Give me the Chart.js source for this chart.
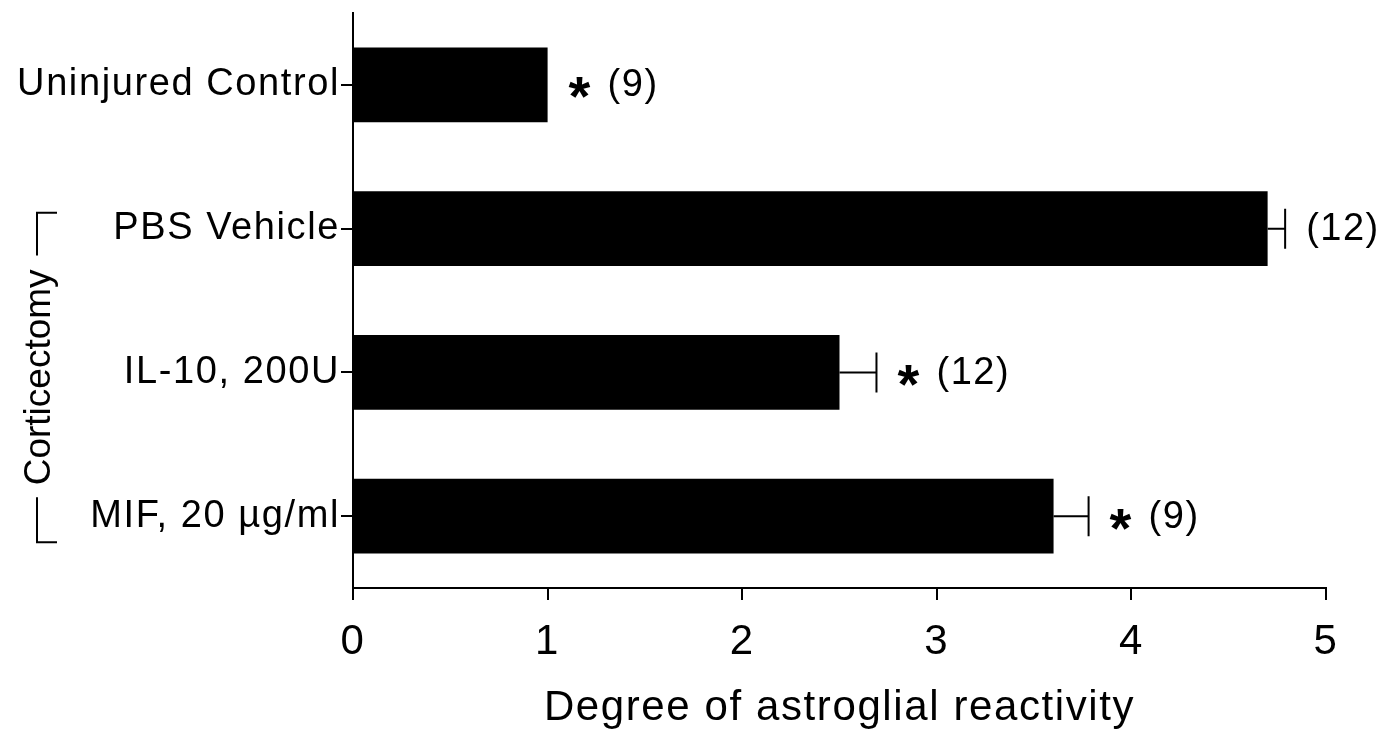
<!DOCTYPE html>
<html>
<head>
<meta charset="utf-8">
<script src="https://cdn.jsdelivr.net/npm/chart.js@4.4.1/dist/chart.umd.min.js"></script>
<style>
  html, body { margin: 0; padding: 0; background: #fff; }
  #chart { display: block; }
</style>
</head>
<body>
<canvas id="chart" width="1396" height="729"></canvas>
<script>
// data
const groups = ['Uninjured Control', 'PBS Vehicle', 'IL-10, 200U', 'MIF, 20 µg/ml'];
const reactivity = [1.0, 4.7, 2.5, 3.6];
const sem = [0, 0.09, 0.19, 0.18];
const significant = [true, false, true, true];
const nAnimals = ['(9)', '(12)', '(12)', '(9)'];
const xTicks = [0, 1, 2, 3, 4, 5];
const bracketLabel = 'Corticectomy';
const bracketFrom = 1;
const bracketTo = 3;

const FONT = '"Liberation Sans", Arial, Helvetica, sans-serif';
const SPACING = '1.6px';

// error bars plus the "* (n)" notes
const errorBars = {
    id: 'errorBars',
    afterDatasetsDraw(chart) {
        const ctx = chart.ctx;
        const x = chart.scales.x;
        const meta = chart.getDatasetMeta(0);
        ctx.save();
        ctx.strokeStyle = '#000';
        ctx.fillStyle = '#000';
        ctx.lineWidth = 2;
        meta.data.forEach((bar, i) => {
            const y = bar.y;
            const x0 = x.getPixelForValue(reactivity[i]);
            const x1 = x.getPixelForValue(reactivity[i] + sem[i]);
            if (sem[i] > 0) {
                ctx.beginPath();
                ctx.moveTo(x0, y);
                ctx.lineTo(x1, y);
                ctx.moveTo(x1, y - 20);
                ctx.lineTo(x1, y + 20);
                ctx.stroke();
            }
            let tx = x1 + 21;
            ctx.textAlign = 'left';
            ctx.textBaseline = 'middle';
            if (significant[i]) {
                ctx.font = 'bold 56px ' + FONT;
                ctx.fillText('*', tx, y + 15);
                tx += 39;
            }
            ctx.font = '38px ' + FONT;
            ctx.letterSpacing = '1.5px';
            ctx.fillText(nAnimals[i], tx, y + 1);
            ctx.letterSpacing = '0px';
        });
        ctx.restore();
    }
};

// the printed lettering is a bit wider than Liberation Sans, so open it up slightly
const labelSpacing = {
    id: 'labelSpacing',
    beforeDraw(chart) { chart.ctx.letterSpacing = SPACING; },
    afterDraw(chart) { chart.ctx.letterSpacing = '0px'; }
};

// rotated "Corticectomy" bracket on the far left
const sideBracket = {
    id: 'sideBracket',
    afterDraw(chart) {
        const ctx = chart.ctx;
        const y = chart.scales.y;
        const top = y.getPixelForValue(bracketFrom) - 16;
        const bottom = y.getPixelForValue(bracketTo) + 26;
        const mid = (top + bottom) / 2;
        const bx = 37;
        ctx.save();
        ctx.font = '37px ' + FONT;
        const half = ctx.measureText(bracketLabel).width / 2;
        ctx.strokeStyle = '#000';
        ctx.lineWidth = 2;
        ctx.beginPath();
        ctx.moveTo(bx + 20, top);
        ctx.lineTo(bx, top);
        ctx.lineTo(bx, mid - half - 14);
        ctx.moveTo(bx, mid + half + 12);
        ctx.lineTo(bx, bottom);
        ctx.lineTo(bx + 20, bottom);
        ctx.stroke();
        ctx.translate(50, mid);
        ctx.rotate(-Math.PI / 2);
        ctx.fillStyle = '#000';
        ctx.textAlign = 'center';
        ctx.textBaseline = 'alphabetic';
        ctx.fillText(bracketLabel, 0, 0);
        ctx.restore();
    }
};

new Chart(document.getElementById('chart'), {
    type: 'bar',
    data: {
        labels: groups,
        datasets: [{
            data: reactivity,
            backgroundColor: '#000',
            borderWidth: 0,
            barPercentage: 0.52,
            categoryPercentage: 1
        }]
    },
    options: {
        indexAxis: 'y',
        responsive: false,
        animation: false,
        devicePixelRatio: 1,
        layout: { padding: { top: 13, right: 70, left: 0, bottom: 0 } },
        plugins: {
            legend: { display: false },
            tooltip: { enabled: false }
        },
        scales: {
            x: {
                min: 0,
                max: 5,
                afterBuildTicks: scale => { scale.ticks = xTicks.map(v => ({ value: v })); },
                afterFit: scale => { scale.height = 141; },
                grid: { drawOnChartArea: false, color: '#000', lineWidth: 2, tickLength: 12 },
                border: { color: '#000', width: 2 },
                ticks: { color: '#000', padding: 17, font: { family: FONT, size: 42 } },
                title: {
                    display: true,
                    text: 'Degree of astroglial reactivity',
                    color: '#000',
                    padding: 0,
                    font: { family: FONT, size: 42, lineHeight: 1 }
                }
            },
            y: {
                afterFit: scale => { scale.width = 353; },
                grid: { offset: false, drawOnChartArea: false, color: '#000', lineWidth: 2, tickLength: 12 },
                border: { color: '#000', width: 2 },
                ticks: { color: '#000', padding: 1, font: { family: FONT, size: 38, lineHeight: 0.6 } }
            }
        }
    },
    plugins: [errorBars, labelSpacing, sideBracket]
});
</script>
</body>
</html>
